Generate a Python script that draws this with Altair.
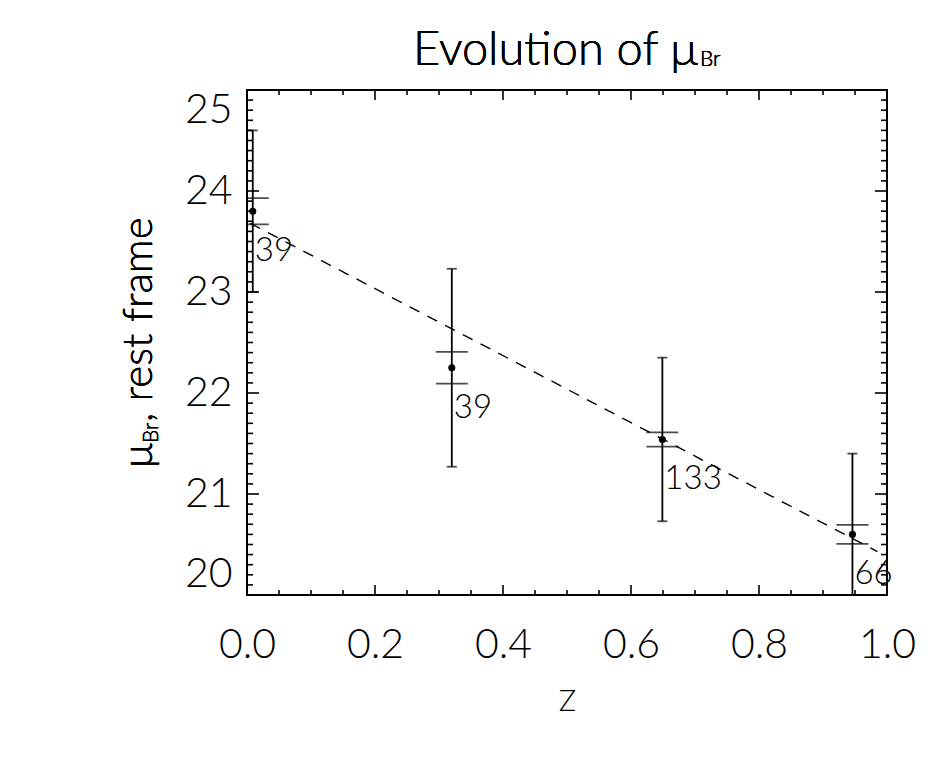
import altair as alt
import pandas as pd

# ---- data ----
z = [0.009, 0.32, 0.649, 0.946]
mu = [23.80, 22.25, 21.54, 20.60]
err_big = [0.80, 0.98, 0.81, 0.80]
err_small = [0.13, 0.157, 0.07, 0.094]
counts = ["39", "39", "133", "66"]
fit_z = [0.005, 0.985]
fit_mu = [23.68, 20.43]

x_major = [0.0, 0.2, 0.4, 0.6, 0.8, 1.0]
x_minor = [round(0.05 * i, 2) for i in range(21) if i % 4]
y_major = [20, 21, 22, 23, 24, 25]
y_minor = [round(20 + 0.1 * i, 1) for i in range(51) if i % 10]

W, H = 640, 505
FONT = "Lato"
FW = 300

df = pd.DataFrame({
    "z": z, "mu": mu,
    "lo": [m - e for m, e in zip(mu, err_big)],
    "hi": [m + e for m, e in zip(mu, err_big)],
    "slo": [m - e for m, e in zip(mu, err_small)],
    "shi": [m + e for m, e in zip(mu, err_small)],
    "n": counts,
})
fit = pd.DataFrame({"z": fit_z, "mu": fit_mu})

xs = alt.Scale(domain=[0, 1], nice=False, zero=False)
ys = alt.Scale(domain=[20, 25], nice=False, zero=False)

xaxis = alt.Axis(values=x_major, format=".1f", ticks=False, domain=False, grid=False,
                 labelFont=FONT, labelFontSize=41, labelFontWeight=FW, labelColor="black",
                 labelPadding=30, labelFlush=False,
                 title="Z", titleFont=FONT, titleFontSize=29, titleFontWeight=FW,
                 titleColor="black", titlePadding=22)
yaxis = alt.Axis(values=y_major, format="d", ticks=False, domain=False, grid=False,
                 labelFont=FONT, labelFontSize=41, labelFontWeight=FW, labelColor="black",
                 labelPadding=15, labelFlush=True, title="")


def X(f):
    return alt.X(f, type="quantitative", scale=xs, axis=xaxis)


def Y(f):
    return alt.Y(f, type="quantitative", scale=ys, axis=yaxis)


base = alt.Chart(df)
LW = 1.8

line = alt.Chart(fit).mark_line(color="black", strokeWidth=1.4, strokeDash=[11, 9], clip=True).encode(
    x=X("z"), y=Y("mu"))

big = base.mark_rule(color="black", strokeWidth=LW, clip=True).encode(x=X("z"), y=Y("lo"), y2="hi")
cap_hi = base.mark_tick(color="black", orient="horizontal", size=10, thickness=LW, clip=True).encode(
    x=X("z"), y=Y("hi"))
cap_lo = base.mark_tick(color="black", orient="horizontal", size=10, thickness=LW, clip=True).encode(
    x=X("z"), y=Y("lo"))
s_hi = base.mark_tick(color="black", orient="horizontal", size=32, thickness=LW, clip=True).encode(
    x=X("z"), y=Y("shi"))
s_lo = base.mark_tick(color="black", orient="horizontal", size=32, thickness=LW, clip=True).encode(
    x=X("z"), y=Y("slo"))
pts = base.mark_circle(color="black", size=50, opacity=1).encode(x=X("z"), y=Y("mu"))
labels = base.mark_text(align="left", baseline="middle", dx=2, dy=40, font=FONT,
                        fontSize=33, fontWeight=FW, color="black").encode(
    x=X("z"), y=Y("mu"), text="n:N")

# ticks pointing inward on all four sides
ymaj = pd.DataFrame({"v": y_major})
ymin = pd.DataFrame({"v": y_minor})
xmaj = pd.DataFrame({"v": x_major})
xmin = pd.DataFrame({"v": x_minor})
tk = dict(color="black", strokeWidth=1.6)
ticks = [
    alt.Chart(ymaj).mark_rule(**tk).encode(y=Y("v"), x=alt.value(0), x2=alt.value(12)),
    alt.Chart(ymaj).mark_rule(**tk).encode(y=Y("v"), x=alt.value(W), x2=alt.value(W - 12)),
    alt.Chart(ymin).mark_rule(**tk).encode(y=Y("v"), x=alt.value(0), x2=alt.value(6)),
    alt.Chart(ymin).mark_rule(**tk).encode(y=Y("v"), x=alt.value(W), x2=alt.value(W - 6)),
    alt.Chart(xmaj).mark_rule(**tk).encode(x=X("v"), y=alt.value(H), y2=alt.value(H - 10)),
    alt.Chart(xmaj).mark_rule(**tk).encode(x=X("v"), y=alt.value(0), y2=alt.value(10)),
    alt.Chart(xmin).mark_rule(**tk).encode(x=X("v"), y=alt.value(H), y2=alt.value(H - 5)),
    alt.Chart(xmin).mark_rule(**tk).encode(x=X("v"), y=alt.value(0), y2=alt.value(5)),
]

# title pieces
title_main = alt.Chart(df).mark_text(text="Evolution of μ", align="right", baseline="alphabetic",
                                     font=FONT, fontSize=47, fontWeight=FW, color="black").encode(
    x=alt.value(451), y=alt.value(-25))
title_sub = alt.Chart(df).mark_text(text="Br", align="left", baseline="alphabetic",
                                    font=FONT, fontSize=21, fontWeight=FW, color="black").encode(
    x=alt.value(453), y=alt.value(-24))

# y-axis title pieces (rotated)
yt1 = alt.Chart(df).mark_text(text="μ", align="left", baseline="alphabetic", angle=270,
                              font=FONT, fontSize=42, fontWeight=FW, color="black").encode(
    x=alt.value(-95), y=alt.value(378))
yt2 = alt.Chart(df).mark_text(text="Br", align="left", baseline="alphabetic", angle=270,
                              font=FONT, fontSize=21, fontWeight=FW, color="black").encode(
    x=alt.value(-89), y=alt.value(353))
yt3 = alt.Chart(df).mark_text(text=", rest frame", align="left", baseline="alphabetic", angle=270,
                              font=FONT, fontSize=42, fontWeight=FW, color="black").encode(
    x=alt.value(-95), y=alt.value(332))

chart = alt.layer(
    line, big, cap_hi, cap_lo, s_hi, s_lo, pts, labels, *ticks,
    title_main, title_sub, yt1, yt2, yt3
).properties(
    width=W, height=H,
    autosize=alt.AutoSizeParams(type="none"),
    padding={"left": 239, "top": 82, "right": 52, "bottom": 158},
    background="white",
).configure_view(stroke="black", strokeWidth=2)

chart.save("out.html", embed_options={"renderer": "svg", "actions": False})
